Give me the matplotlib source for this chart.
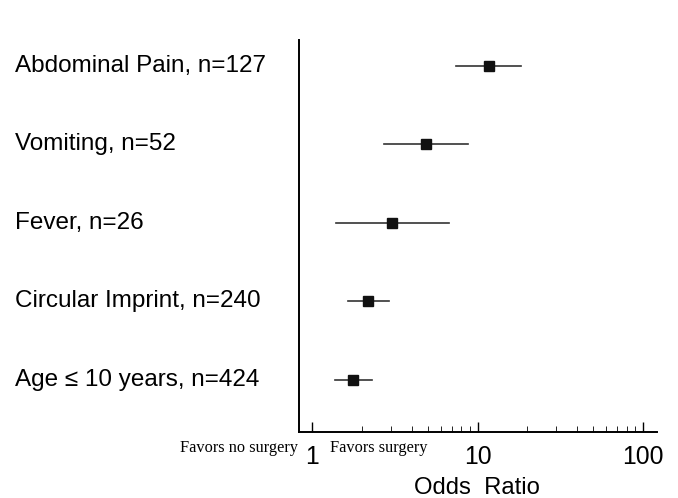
"""Forest plot of odds ratios for surgery by presenting feature."""

import matplotlib
matplotlib.use("Agg")
import matplotlib.pyplot as plt
from matplotlib.transforms import blended_transform_factory

# Data (top to bottom)
labels = [
    "Abdominal Pain, n=127",
    "Vomiting, n=52",
    "Fever, n=26",
    "Circular Imprint, n=240",
    "Age \u2264 10 years, n=424",
]
odds_ratio = [11.7, 4.86, 3.04, 2.19, 1.78]
ci_low = [7.38, 2.71, 1.40, 1.64, 1.37]
ci_high = [18.2, 8.80, 6.70, 2.93, 2.30]

ticks = [1, 10, 100]
tick_labels = ["1", "10", "100"]
minor_ticks = [2, 3, 4, 5, 6, 7, 8, 9, 20, 30, 40, 50, 60, 70, 80, 90]

sans = ["Liberation Sans", "DejaVu Sans"]
serif = ["Liberation Serif", "DejaVu Serif"]

fig = plt.figure(figsize=(6.78, 4.98), dpi=100)
ax = fig.add_axes([0.441, 0.1325, 0.528, 0.7872])

ypos = list(range(len(labels), 0, -1))
for y, o, lo, hi in zip(ypos, odds_ratio, ci_low, ci_high):
    ax.plot([lo, hi], [y, y], color="#333333", lw=1.2, zorder=2)
ax.plot(odds_ratio, ypos, ls="none", marker="s", ms=7.5, color="#111111", zorder=3)

ax.set_xscale("log")
ax.set_xlim(0.834, 121.5)
ax.set_ylim(0.338, 5.33)

ax.spines["top"].set_visible(False)
ax.spines["right"].set_visible(False)
ax.spines["left"].set_linewidth(1.4)
ax.spines["bottom"].set_linewidth(1.4)

ax.set_yticks([])
ax.set_xticks(ticks)
ax.set_xticks(minor_ticks, minor=True)
ax.set_xticklabels(tick_labels, fontsize=17.8, family=sans)
ax.set_xticklabels([], minor=True)
ax.tick_params(axis="x", which="major", direction="in", length=7.2, width=1, pad=9)
ax.tick_params(axis="x", which="minor", direction="in", length=4, width=0.6)

trans = blended_transform_factory(fig.transFigure, ax.transData)
for y, lab in zip(ypos, labels):
    ax.text(15 / 678, y, lab, transform=trans, ha="left", va="center",
            fontsize=17.5, family=sans)

fig.text(298 / 678, 1 - 448 / 498, "Favors no surgery", ha="right", va="center",
         fontsize=11.8, family=serif)
fig.text(330 / 678, 1 - 448 / 498, "Favors surgery", ha="left", va="center",
         fontsize=11.8, family=serif)
fig.text(477 / 678, 1 - 488 / 498, "Odds  Ratio", ha="center", va="center",
         fontsize=17.2, family=sans)

fig.savefig("out.png", dpi=100)
